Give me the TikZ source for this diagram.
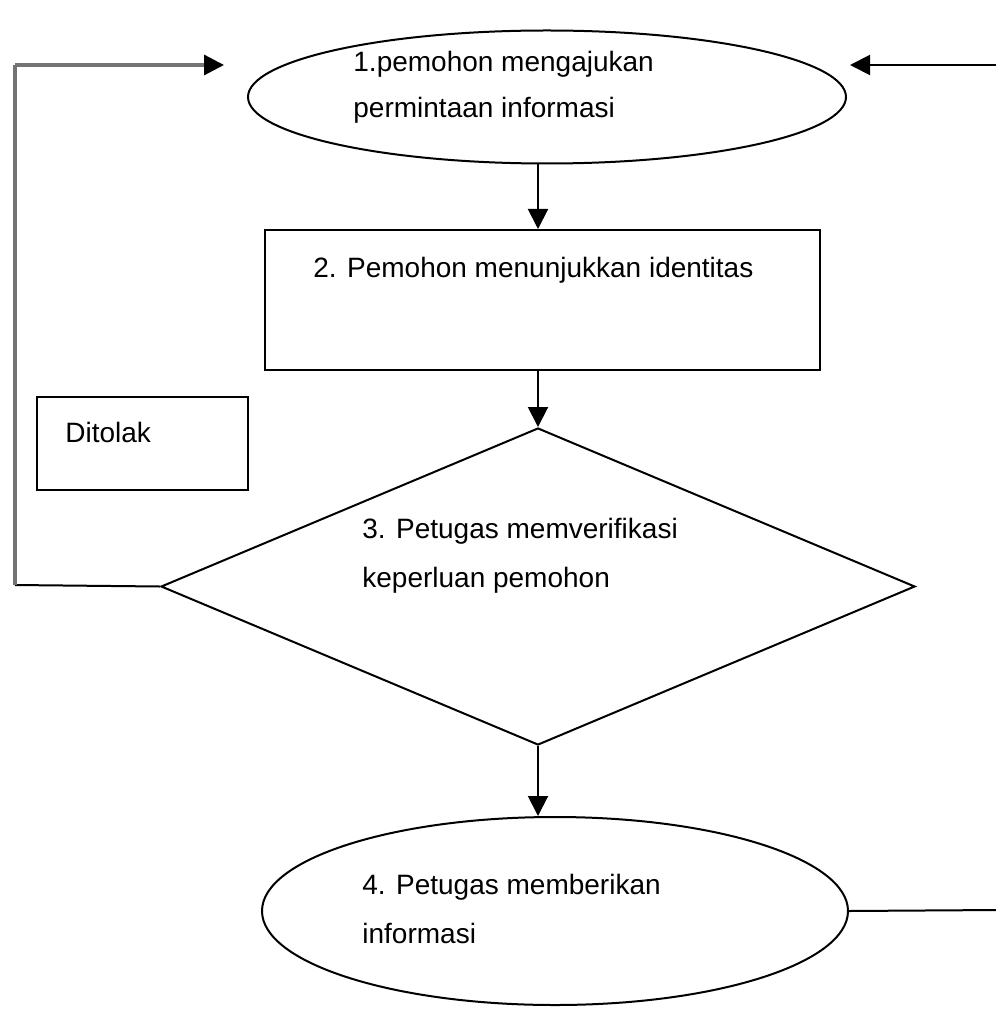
\documentclass[tikz,border=0pt]{standalone}
\usepackage{fontspec}
\setmainfont{Liberation Sans}
\usetikzlibrary{shapes.geometric,arrows.meta}
\begin{document}
\begin{tikzpicture}[x=0.5pt,y=-0.5pt,
  shp/.style={draw=black,line width=1pt,inner sep=0pt,fill=white},
  txt/.style={anchor=west,inner sep=0pt,font=\fontsize{14}{16}\selectfont},
  tip/.style={-{Triangle[length=10pt,width=10pt,color=black]}},
  conn/.style={line width=1pt,tip},
  back/.style={draw=black!55,line width=1.6pt}]
\useasboundingbox (0,0) rectangle (995,1026);
% shapes
\node[shp,ellipse,minimum width=299pt,minimum height=66.5pt] (e1) at (547,97) {};
\node[shp,rectangle,minimum width=277.5pt,minimum height=70pt] (r2) at (542.5,300) {};
\node[shp,diamond,minimum width=377pt,minimum height=158.5pt] (d3) at (538,586.5) {};
\node[shp,rectangle,minimum width=105.5pt,minimum height=46.5pt] (dt) at (142.5,443.5) {};
\node[shp,ellipse,minimum width=293pt,minimum height=94pt] (e4) at (555,911) {};
% texts
\node[txt] (t1a) at (353,64) {1.pemohon mengajukan};
\node[txt] (t1b) at (353,110) {permintaan informasi};
\node[txt] (t2) at (313,270) {2. Pemohon menunjukkan identitas};
\node[txt] (tdt) at (65,432) {Ditolak};
\node[txt] (t3a) at (362,531) {3. Petugas memverifikasi};
\node[txt] (t3b) at (362,580) {keperluan pemohon};
\node[txt] (t4a) at (362,887) {4. Petugas memberikan};
\node[txt] (t4b) at (362,933) {informasi};
% helper coordinates
\coordinate (ax) at (538,0);
\coordinate (lb) at (15,585);
\coordinate (lt) at (15,65);
\coordinate (la) at (224,65);
\coordinate (ra) at (850,65);
\coordinate (rs) at (998,65);
\coordinate (re) at (998,910);
% connectors
\draw[conn] (e1.south -| ax) -- (r2.north -| ax);
\draw[conn] (r2.south -| ax) -- (d3.north);
\draw[conn] (d3.south) -- (e4.north -| d3.south);
\draw[line width=1pt] (d3.west) -- (lb);
\draw[back] (lb) -- (lt);
\draw[back,tip] (lt) -- (la);
\draw[conn] (rs) -- (ra);
\draw[line width=1pt] (e4.east) -- (re);
\end{tikzpicture}
\end{document}
